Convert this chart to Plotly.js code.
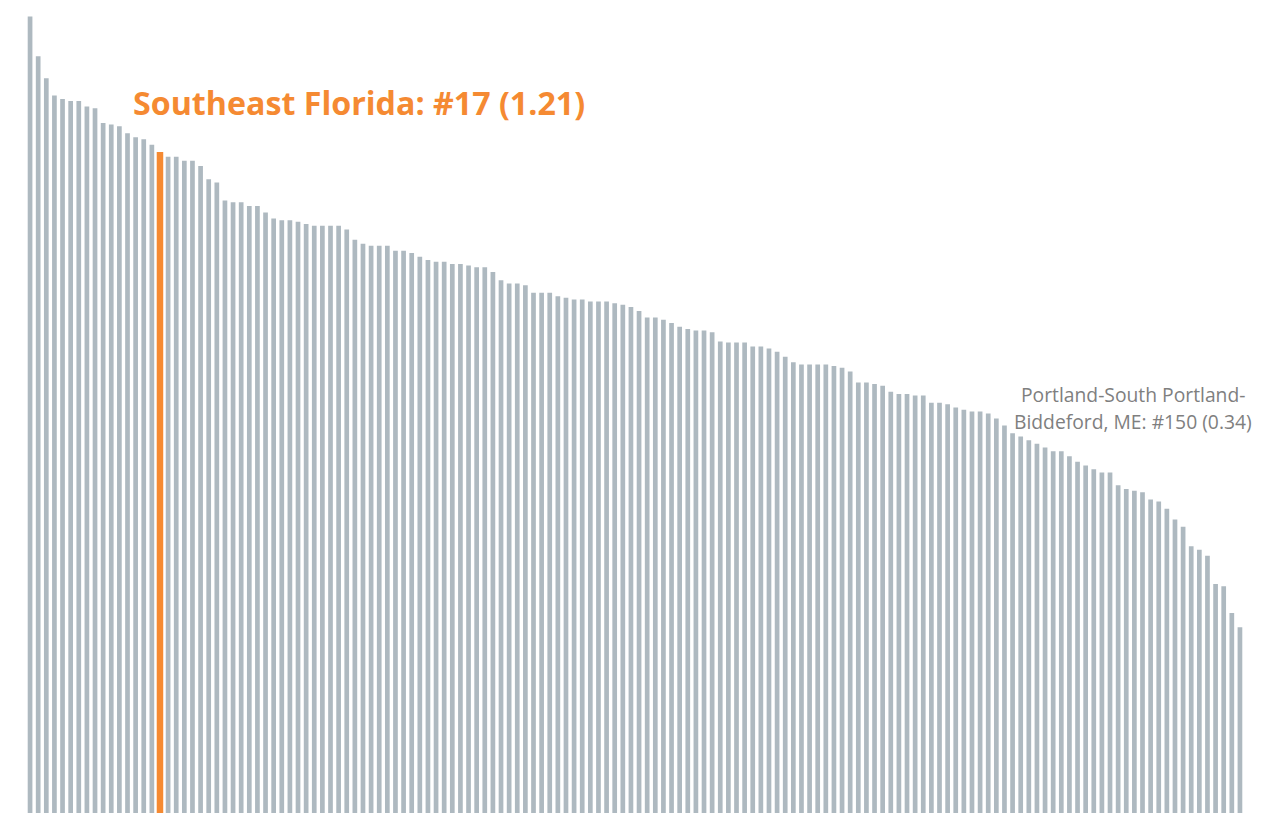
<!DOCTYPE html>
<html>
<head>
<meta charset="utf-8">
<script src="https://cdn.plot.ly/plotly-3.0.1.min.js"></script>
<style>
  html, body { margin: 0; padding: 0; background: #fff; }
  #chart { width: 1272px; height: 814px; }
</style>
</head>
<body>
<div id="chart"></div>
<script>
// index per metro area, sorted high to low
var values = [
  1.458, 1.385, 1.345, 1.313, 1.307, 1.303, 1.303, 1.293, 1.290, 1.263,
  1.260, 1.257, 1.244, 1.237, 1.233, 1.223, 1.21, 1.201, 1.201, 1.194,
  1.194, 1.184, 1.160, 1.154, 1.121, 1.118, 1.118, 1.111, 1.111, 1.099,
  1.088, 1.085, 1.085, 1.082, 1.078, 1.075, 1.075, 1.075, 1.075, 1.068,
  1.049, 1.042, 1.038, 1.038, 1.038, 1.029, 1.029, 1.025, 1.018, 1.012,
  1.009, 1.009, 1.005, 1.005, 1.002, 0.999, 0.999, 0.990, 0.975, 0.969,
  0.969, 0.966, 0.952, 0.952, 0.952, 0.946, 0.943, 0.940, 0.940, 0.936,
  0.936, 0.936, 0.933, 0.930, 0.926, 0.919, 0.907, 0.907, 0.903, 0.897,
  0.890, 0.886, 0.883, 0.883, 0.880, 0.863, 0.861, 0.861, 0.861, 0.854,
  0.854, 0.850, 0.844, 0.835, 0.825, 0.821, 0.821, 0.821, 0.821, 0.818,
  0.815, 0.808, 0.788, 0.788, 0.785, 0.782, 0.771, 0.767, 0.767, 0.764,
  0.764, 0.751, 0.751, 0.748, 0.742, 0.738, 0.735, 0.735, 0.731, 0.722,
  0.709, 0.695, 0.689, 0.682, 0.676, 0.669, 0.662, 0.662, 0.653, 0.643,
  0.636, 0.629, 0.623, 0.623, 0.600, 0.593, 0.590, 0.587, 0.574, 0.570,
  0.557, 0.537, 0.524, 0.488, 0.482, 0.471, 0.419, 0.415, 0.366, 0.34
]
var ranks = values.map(function (v, i) { return i + 1 })

var highlightRank = 17
var highlightLabel = "Southeast Florida: #17 (1.21)"
var lastLabel1 = "Portland-South Portland-"
var lastLabel2 = "Biddeford, ME: #150 (0.34)"

var grey = "#aeb9c0"
var orange = "#f58a32"

var colors = ranks.map(function (r) { return r == highlightRank ? orange : grey })
var widths = ranks.map(function (r) { return r == highlightRank ? 0.8 : 0.58 })

var data = [{
  x: ranks,
  y: values,
  type: "bar",
  width: widths,
  marker: { color: colors, line: { width: 0 } },
  hoverinfo: "x+y"
}]

var layout = {
  width: 1272,
  height: 814,
  margin: { l: 26, r: 28, t: 0, b: 1 },
  paper_bgcolor: "#fff",
  plot_bgcolor: "#fff",
  showlegend: false,
  xaxis: {
    range: [0.5, 150.5],
    showgrid: false, zeroline: false, showticklabels: false, ticks: "", showline: false
  },
  yaxis: {
    range: [0, 1.488],
    showgrid: false, zeroline: false, showticklabels: false, ticks: "", showline: false
  },
  annotations: [
    {
      text: "<b>" + highlightLabel + "</b>",
      xref: "paper", yref: "paper",
      x: 0.0862, y: 0.8745,
      xanchor: "left", yanchor: "middle",
      showarrow: false,
      font: { family: "'Open Sans', sans-serif", size: 32.2, color: orange }
    },
    {
      text: lastLabel1,
      xref: "paper", yref: "paper",
      x: 0.9085, y: 0.515,
      xanchor: "center", yanchor: "middle",
      showarrow: false,
      font: { family: "'Open Sans', sans-serif", size: 19.3, color: "#7f7f7f" }
    },
    {
      text: lastLabel2,
      xref: "paper", yref: "paper",
      x: 0.9085, y: 0.482,
      xanchor: "center", yanchor: "middle",
      showarrow: false,
      font: { family: "'Open Sans', sans-serif", size: 19.3, color: "#7f7f7f" }
    }
  ]
}

Plotly.newPlot("chart", data, layout, { displayModeBar: false, staticPlot: true })
</script>
</body>
</html>
